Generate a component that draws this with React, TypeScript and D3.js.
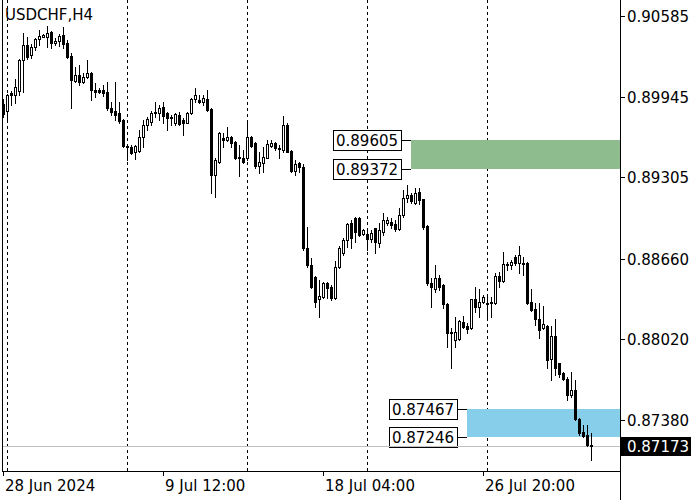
import React from 'react';
import * as d3 from 'd3';

const symbol = 'USDCHF,H4';
const opens = [0.89887,0.89832,0.89971,0.89959,0.89990,0.90236,0.90355,0.90275,0.90339,0.90403,0.90419,0.90419,0.90458,0.90371,0.90387,0.90435,0.90371,0.90268,0.90069,0.90117,0.90061,0.90101,0.90133,0.89998,0.89994,0.89998,0.89982,0.89856,0.89832,0.89816,0.89760,0.89554,0.89546,0.89506,0.89514,0.89625,0.89720,0.89744,0.89816,0.89816,0.89863,0.89816,0.89784,0.89737,0.89800,0.89760,0.89737,0.89816,0.89927,0.89919,0.89903,0.89927,0.89848,0.89324,0.89427,0.89617,0.89601,0.89625,0.89586,0.89463,0.89459,0.89459,0.89625,0.89578,0.89395,0.89419,0.89459,0.89554,0.89578,0.89538,0.89522,0.89720,0.89514,0.89356,0.89419,0.89387,0.88745,0.88609,0.88514,0.88340,0.88356,0.88467,0.88435,0.88348,0.88593,0.88705,0.88808,0.88943,0.88982,0.88982,0.88856,0.88856,0.88816,0.88903,0.88784,0.88871,0.88943,0.88951,0.88935,0.88895,0.89006,0.89141,0.89165,0.89101,0.89189,0.89133,0.88919,0.88467,0.88419,0.88506,0.88451,0.88300,0.88082,0.88015,0.88023,0.88158,0.88126,0.88110,0.88340,0.88276,0.88316,0.88308,0.88316,0.88308,0.88522,0.88482,0.88617,0.88609,0.88673,0.88625,0.88625,0.88625,0.88316,0.88261,0.88182,0.88110,0.88126,0.87864,0.88047,0.87832,0.87753,0.87705,0.87578,0.87618,0.87388,0.87285,0.87261,0.87182];
const highs = [0.89927,0.89967,0.89990,0.90085,0.90244,0.90451,0.90419,0.90363,0.90411,0.90474,0.90443,0.90506,0.90466,0.90411,0.90443,0.90498,0.90395,0.90292,0.90180,0.90196,0.90133,0.90236,0.90141,0.90053,0.90014,0.90038,0.90061,0.89903,0.90061,0.89903,0.89768,0.89562,0.89562,0.89562,0.89681,0.89760,0.89784,0.89832,0.89903,0.89879,0.89903,0.89824,0.89800,0.89816,0.89824,0.89776,0.89824,0.89935,0.90014,0.89959,0.89959,0.89998,0.89856,0.89459,0.89664,0.89657,0.89704,0.89633,0.89590,0.89562,0.89522,0.89744,0.89633,0.89582,0.89506,0.89546,0.89601,0.89601,0.89582,0.89562,0.89792,0.89737,0.89522,0.89443,0.89427,0.89411,0.88911,0.88665,0.88522,0.88490,0.88474,0.88474,0.88451,0.88641,0.88761,0.88824,0.88943,0.88966,0.88990,0.88990,0.88895,0.88887,0.88887,0.88907,0.88943,0.89022,0.88990,0.88982,0.88966,0.89062,0.89205,0.89244,0.89181,0.89220,0.89220,0.89137,0.88927,0.88506,0.88609,0.88530,0.88455,0.88308,0.88110,0.88197,0.88174,0.88205,0.88150,0.88340,0.88435,0.88419,0.88372,0.88372,0.88356,0.88546,0.88554,0.88713,0.88633,0.88649,0.88689,0.88761,0.88673,0.88633,0.88419,0.88308,0.88308,0.88285,0.88130,0.88126,0.88182,0.87836,0.87761,0.87721,0.87761,0.87697,0.87392,0.87340,0.87340,0.87277];
const lows = [0.89784,0.89768,0.89879,0.89895,0.89959,0.89982,0.90244,0.90252,0.90315,0.90355,0.90415,0.90339,0.90331,0.90355,0.90347,0.90331,0.90252,0.89856,0.90061,0.90038,0.90053,0.90093,0.89919,0.89943,0.89974,0.89951,0.89840,0.89800,0.89760,0.89737,0.89546,0.89443,0.89490,0.89451,0.89506,0.89546,0.89681,0.89720,0.89784,0.89760,0.89737,0.89681,0.89720,0.89720,0.89720,0.89641,0.89733,0.89808,0.89903,0.89895,0.89879,0.89832,0.89181,0.89149,0.89419,0.89546,0.89594,0.89546,0.89451,0.89316,0.89419,0.89443,0.89546,0.89379,0.89340,0.89348,0.89459,0.89546,0.89522,0.89459,0.89506,0.89506,0.89348,0.89324,0.89348,0.88729,0.88593,0.88427,0.88276,0.88197,0.88348,0.88348,0.88332,0.88340,0.88585,0.88689,0.88753,0.88745,0.88792,0.88840,0.88848,0.88729,0.88792,0.88705,0.88753,0.88848,0.88927,0.88903,0.88880,0.88887,0.88990,0.89109,0.89101,0.89097,0.89093,0.88895,0.88451,0.88276,0.88395,0.88411,0.88268,0.87959,0.87793,0.87959,0.88015,0.88110,0.88071,0.88102,0.88237,0.88197,0.88308,0.88197,0.88197,0.88300,0.88435,0.88474,0.88570,0.88578,0.88609,0.88546,0.88530,0.88304,0.88245,0.88134,0.88031,0.88102,0.87793,0.87697,0.87737,0.87721,0.87697,0.87539,0.87562,0.87380,0.87261,0.87249,0.87170,0.87063];
const closes = [0.89808,0.89959,0.89959,0.90022,0.90236,0.90355,0.90260,0.90339,0.90403,0.90427,0.90435,0.90451,0.90371,0.90387,0.90427,0.90363,0.90260,0.90077,0.90117,0.90061,0.90101,0.90133,0.89998,0.89982,0.89986,0.89974,0.89856,0.89824,0.89800,0.89752,0.89554,0.89546,0.89500,0.89554,0.89625,0.89720,0.89768,0.89816,0.89824,0.89856,0.89792,0.89776,0.89776,0.89808,0.89728,0.89737,0.89816,0.89927,0.89959,0.89903,0.89935,0.89840,0.89324,0.89443,0.89657,0.89601,0.89625,0.89578,0.89459,0.89455,0.89427,0.89625,0.89554,0.89395,0.89427,0.89467,0.89570,0.89578,0.89538,0.89530,0.89720,0.89510,0.89356,0.89411,0.89387,0.88745,0.88609,0.88435,0.88316,0.88364,0.88467,0.88427,0.88348,0.88593,0.88745,0.88808,0.88935,0.88824,0.88872,0.88848,0.88887,0.88816,0.88864,0.88792,0.88887,0.88967,0.88967,0.88927,0.88895,0.89006,0.89141,0.89165,0.89117,0.89181,0.89125,0.88911,0.88467,0.88435,0.88506,0.88435,0.88300,0.88071,0.88069,0.88079,0.88166,0.88118,0.88102,0.88336,0.88276,0.88316,0.88356,0.88300,0.88308,0.88522,0.88482,0.88617,0.88609,0.88633,0.88625,0.88689,0.88617,0.88311,0.88253,0.88182,0.88095,0.88142,0.87856,0.88047,0.87793,0.87745,0.87705,0.87579,0.87618,0.87388,0.87277,0.87253,0.87181,0.87173];

const priceTicks = [0.90585, 0.89945, 0.89305, 0.8866, 0.8802, 0.8738];
const timeLabelBars = [0, 40, 80, 120];
const timeLabels = ['28 Jun 2024', '9 Jul 12:00', '18 Jul 04:00', '26 Jul 20:00'];
const weekStartBars = [1, 31, 61, 91, 121];
const lastPrice = 0.87173;
const zoneHighs = [0.89605, 0.87467];
const zoneLows = [0.89372, 0.87246];
const zoneStartBars = [102, 116];

const FONT = 'DejaVu Sans';
const W = 700, H = 500;
const plotLeft = 2, plotRight = 620, plotBottom = 471;

export default function App() {
  const n = opens.length;
  const x = d3.scaleLinear().domain([0, 147]).range([3.5, 591.5]);
  const y = d3.scaleLinear().domain([0.8738, 0.90585]).range([420, 16]);
  const fmt = d3.format('.5f');
  const colors = ['#8FBC8F', '#87CEEB'];
  const ry = (p: number) => Math.round(y(p));

  const candles = d3.range(n).map((i) => {
    const o = opens[i], c = closes[i];
    const cx = x(i);
    const top = ry(Math.max(o, c));
    const bot = ry(Math.min(o, c));
    const bull = c > o;
    const hgt = bot - top;
    return (
      <g key={i}>
        <line x1={cx} x2={cx} y1={ry(highs[i])} y2={ry(lows[i]) + 1} stroke="#000" strokeWidth={1} />
        {hgt < 1 ? (
          <rect x={cx - 1.5} y={top} width={3} height={1} fill="#000" />
        ) : bull && hgt >= 2 ? (
          <rect x={cx - 1} y={top + 0.5} width={2} height={hgt} fill="#fff" stroke="#000" strokeWidth={1} />
        ) : (
          <rect x={cx - 1.5} y={top} width={3} height={hgt + 1} fill="#000" />
        )}
      </g>
    );
  });

  return (
    <svg width={W} height={H} style={{ position: 'absolute', left: 0, top: 0, background: '#fff' }} fontFamily={FONT}>
      <rect x={0} y={0} width={W} height={H} fill="#fff" />
      {/* week separators */}
      {weekStartBars.map((b) => (
        <line key={b} x1={x(b)} x2={x(b)} y1={0} y2={plotBottom} stroke="#000" strokeWidth={1} strokeDasharray="3,3" />
      ))}
      {/* zones */}
      {zoneHighs.map((hi, k) => (
        <g key={'z' + k}>
          <rect x={Math.floor(x(zoneStartBars[k]))} y={ry(hi)} width={plotRight - Math.floor(x(zoneStartBars[k]))} height={ry(zoneLows[k]) - ry(hi)} fill={colors[k]} />
          {[hi, zoneLows[k]].map((p, j) => {
            const zx = Math.floor(x(zoneStartBars[k]));
            const bx = zx - 10 - 68;
            const yy = ry(p) + 0.5;
            return (
              <g key={j}>
                <line x1={zx - 10} x2={zx} y1={yy} y2={yy} stroke="#000" />
                <rect x={bx + 0.5} y={yy - 10} width={68} height={20} fill="#fff" stroke="#000" />
                <text x={bx + 3} y={yy} dominantBaseline="central" fontSize={15} fill="#000">{fmt(p)}</text>
              </g>
            );
          })}
        </g>
      ))}
      {/* current price line */}
      <line x1={plotLeft} x2={plotRight} y1={ry(lastPrice) + 0.5} y2={ry(lastPrice) + 0.5} stroke="#C0C0C0" />
      {candles}
      {/* frame */}
      <line x1={plotLeft + 0.5} x2={plotLeft + 0.5} y1={0} y2={plotBottom} stroke="#000" />
      <line x1={plotRight + 0.5} x2={plotRight + 0.5} y1={0} y2={H} stroke="#000" />
      <line x1={plotLeft} x2={plotRight + 1} y1={plotBottom + 0.5} y2={plotBottom + 0.5} stroke="#000" />
      {/* price axis */}
      {priceTicks.map((p) => (
        <g key={p}>
          <line x1={plotRight} x2={plotRight + 5} y1={ry(p) + 0.5} y2={ry(p) + 0.5} stroke="#000" />
          <text x={627} y={ry(p) + 1} dominantBaseline="central" fontSize={15} fill="#000">{fmt(p)}</text>
        </g>
      ))}
      <rect x={plotRight + 1} y={ry(lastPrice) - 9} width={70} height={19} fill="#000" />
      <text x={627} y={ry(lastPrice) + 1} dominantBaseline="central" fontSize={15} fill="#fff">{fmt(lastPrice)}</text>
      {/* time axis */}
      {timeLabelBars.map((b, k) => (
        <g key={b}>
          <line x1={Math.floor(x(b)) + 0.5} x2={Math.floor(x(b)) + 0.5} y1={plotBottom} y2={plotBottom + 5} stroke="#000" />
          <text x={Math.floor(x(b)) + 2} y={491} fontSize={15} fill="#000">{timeLabels[k]}</text>
        </g>
      ))}
      <text x={5} y={20} fontSize={15} fill="#000">{symbol}</text>
    </svg>
  );
}
